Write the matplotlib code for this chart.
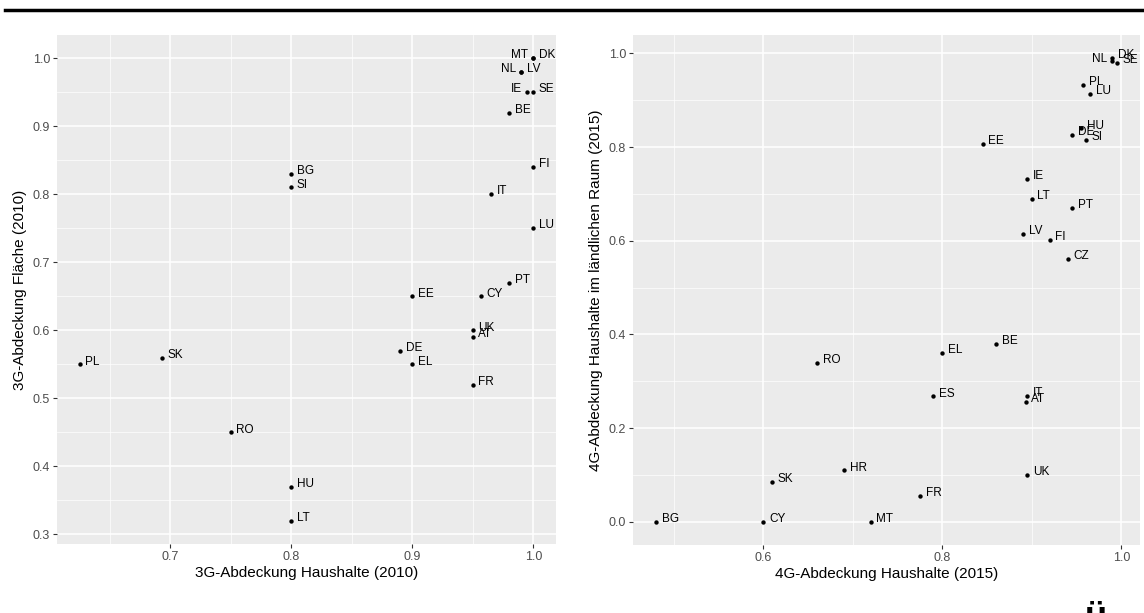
import numpy as np
import matplotlib
matplotlib.use('Agg')
import matplotlib.pyplot as plt
from matplotlib.ticker import MultipleLocator

plt.rcParams['font.family'] = ['Liberation Sans', 'DejaVu Sans']

# left panel: 3G 2010
laender_3g = ['PL', 'SK', 'RO', 'BG', 'SI', 'HU', 'LT', 'DE', 'EL', 'EE', 'UK', 'AT', 'FR',
              'IT', 'CY', 'PT', 'BE', 'LU', 'FI', 'IE', 'SE', 'NL', 'LV', 'MT', 'DK']
haushalte_3g = [0.625, 0.693, 0.75, 0.80, 0.80, 0.80, 0.80, 0.89, 0.90, 0.90, 0.95, 0.95, 0.95,
                0.965, 0.957, 0.98, 0.98, 1.00, 1.00, 0.995, 1.00, 0.99, 0.99, 1.00, 1.00]
flaeche_3g = [0.55, 0.56, 0.45, 0.83, 0.81, 0.37, 0.32, 0.57, 0.55, 0.65, 0.60, 0.59, 0.52,
              0.80, 0.65, 0.67, 0.92, 0.75, 0.84, 0.95, 0.95, 0.98, 0.98, 1.00, 1.00]
links_3g = ['IE', 'NL', 'MT']

# right panel: 4G 2015
laender_4g = ['BG', 'CY', 'MT', 'SK', 'HR', 'FR', 'UK', 'RO', 'ES', 'EL', 'BE', 'IT', 'AT',
              'CZ', 'FI', 'LV', 'PT', 'LT', 'IE', 'EE', 'SI', 'DE', 'HU', 'LU', 'PL',
              'NL', 'SE', 'DK']
haushalte_4g = [0.48, 0.60, 0.72, 0.61, 0.69, 0.775, 0.895, 0.66, 0.79, 0.80, 0.86, 0.895, 0.893,
                0.94, 0.92, 0.89, 0.945, 0.90, 0.895, 0.845, 0.96, 0.945, 0.955, 0.965, 0.957,
                0.99, 0.995, 0.99]
laendlich_4g = [0.0, 0.0, 0.0, 0.085, 0.11, 0.055, 0.10, 0.34, 0.268, 0.36, 0.38, 0.269, 0.256,
                0.562, 0.602, 0.615, 0.67, 0.689, 0.732, 0.807, 0.815, 0.827, 0.84, 0.913, 0.933,
                0.983, 0.98, 0.99]
links_4g = ['NL']

W, H = 1144, 613
fig = plt.figure(figsize=(W / 100, H / 100), dpi=100)


def gg_axes(rect):
    ax = fig.add_axes(rect)
    ax.set_facecolor('#EBEBEB')
    for s in ax.spines.values():
        s.set_visible(False)
    ax.grid(True, which='major', color='white', linewidth=1.1, zorder=0)
    ax.grid(True, which='minor', color='white', linewidth=0.5, zorder=0)
    ax.set_axisbelow(True)
    ax.tick_params(which='major', length=3, width=0.8, color='#333333',
                   labelsize=9, labelcolor='#4D4D4D', pad=2)
    ax.tick_params(which='minor', length=0)
    return ax


def streu(ax, x, y, namen, links):
    ax.scatter(x, y, s=10, color='black', zorder=3, linewidths=0)
    for xi, yi, n in zip(x, y, namen):
        if n in links:
            ax.annotate(n, (xi, yi), xytext=(-4, 2), textcoords='offset points',
                        ha='right', va='center', fontsize=8.5, color='black')
        else:
            ax.annotate(n, (xi, yi), xytext=(4, 2), textcoords='offset points',
                        ha='left', va='center', fontsize=8.5, color='black')


def gg_lim(v):
    lo, hi = min(v), max(v)
    d = (hi - lo) * 0.05
    return lo - d, hi + d


# left plot
ax1 = gg_axes([57 / W, 1 - 544 / H, (556 - 57) / W, (544 - 35) / H])
streu(ax1, haushalte_3g, flaeche_3g, laender_3g, links_3g)
ax1.set_xlim(*gg_lim(haushalte_3g))
ax1.set_ylim(*gg_lim(flaeche_3g))
ax1.xaxis.set_major_locator(MultipleLocator(0.1))
ax1.xaxis.set_minor_locator(MultipleLocator(0.05))
ax1.yaxis.set_major_locator(MultipleLocator(0.1))
ax1.yaxis.set_minor_locator(MultipleLocator(0.05))
ax1.xaxis.set_major_formatter(lambda v, p: f'{v:.1f}')
ax1.yaxis.set_major_formatter(lambda v, p: f'{v:.1f}')
ax1.set_xlabel('3G-Abdeckung Haushalte (2010)', fontsize=11, labelpad=2)
ax1.set_ylabel('3G-Abdeckung Fläche (2010)', fontsize=11, labelpad=4)

# right plot
ax2 = gg_axes([633 / W, 1 - 545 / H, (1140 - 633) / W, (545 - 35) / H])
streu(ax2, haushalte_4g, laendlich_4g, laender_4g, links_4g)
ax2.set_xlim(*gg_lim(haushalte_4g))
ax2.set_ylim(*gg_lim(laendlich_4g))
ax2.xaxis.set_major_locator(MultipleLocator(0.2))
ax2.xaxis.set_minor_locator(MultipleLocator(0.1))
ax2.yaxis.set_major_locator(MultipleLocator(0.2))
ax2.yaxis.set_minor_locator(MultipleLocator(0.1))
ax2.xaxis.set_major_formatter(lambda v, p: f'{v:.1f}')
ax2.yaxis.set_major_formatter(lambda v, p: f'{v:.1f}')
ax2.set_xlabel('4G-Abdeckung Haushalte (2015)', fontsize=11, labelpad=2)
ax2.set_ylabel('4G-Abdeckung Haushalte im ländlichen Raum (2015)', fontsize=11, labelpad=4)

# page rule at top and cut-off glyph at bottom right
fig.add_artist(plt.Line2D([5 / W, 1], [1 - 10 / H, 1 - 10 / H], color='black', linewidth=2.5))
fig.text(1096 / W, -22 / H, 'ü', fontsize=26, fontweight='bold', ha='center', va='bottom')

fig.savefig('out.png', dpi=100)
